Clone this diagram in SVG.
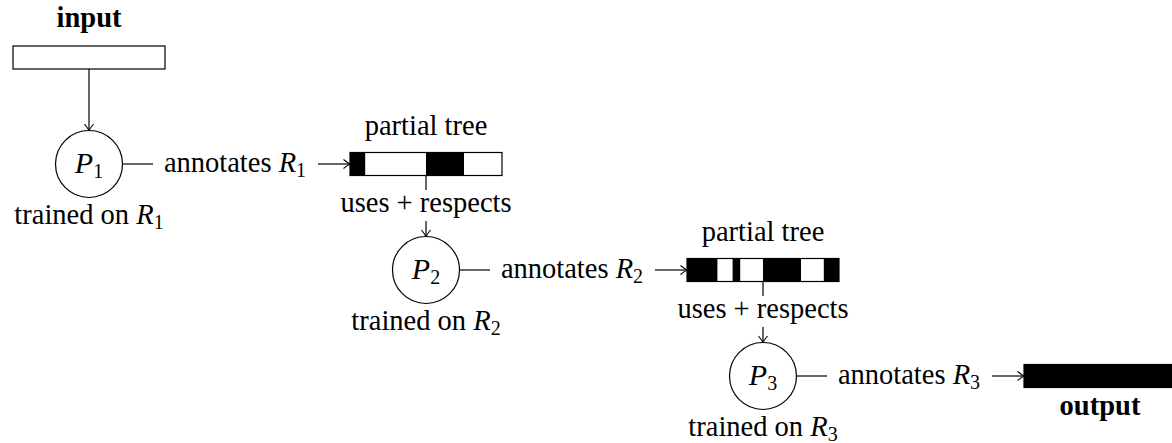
<svg xmlns="http://www.w3.org/2000/svg" width="1172" height="443" viewBox="0 0 1172 443">
<style>
text{font-family:"Liberation Serif","Times New Roman",serif;font-size:28.5px;fill:#000}
.b{font-weight:bold}
.m{font-style:italic}
.s{font-size:20px}
.pl{font-size:30px}
.ln{stroke:#000;stroke-width:1.2;fill:none}
.box{fill:#fff;stroke:#000;stroke-width:1.2}
.blk{fill:#000}
.c{fill:#fff;stroke:#000;stroke-width:1.2}
</style>
<defs>
<marker id="ah" markerUnits="userSpaceOnUse" markerWidth="12" markerHeight="12" viewBox="-8 -6 10 12" refX="0" refY="0" orient="auto">
<path d="M-6.5,-4.5 Q-2,-1 0,0 Q-2,1 -6.5,4.5" fill="none" stroke="#000" stroke-width="1.1"/>
</marker>
</defs>
<g id="connectors">
<line class="ln" x1="89" y1="69" x2="89" y2="130.5" marker-end="url(#ah)"/>
<line class="ln" x1="122.5" y1="164" x2="153" y2="164"/>
<line class="ln" x1="318" y1="164" x2="350" y2="164" marker-end="url(#ah)"/>
<line class="ln" x1="426" y1="175.5" x2="426" y2="190"/>
<line class="ln" x1="426" y1="221" x2="426" y2="236.5" marker-end="url(#ah)"/>
<line class="ln" x1="459.5" y1="270" x2="490" y2="270"/>
<line class="ln" x1="655" y1="270" x2="687" y2="270" marker-end="url(#ah)"/>
<line class="ln" x1="763" y1="281.5" x2="763" y2="296"/>
<line class="ln" x1="763" y1="327" x2="763" y2="342.5" marker-end="url(#ah)"/>
<line class="ln" x1="796.5" y1="376" x2="827" y2="376"/>
<line class="ln" x1="992" y1="376" x2="1024" y2="376" marker-end="url(#ah)"/>
<text x="235" y="172" text-anchor="middle" font-size="29">annotates <tspan class="m">R</tspan><tspan class="s" dy="5">1</tspan></text>
<text x="426" y="212" text-anchor="middle">uses + respects</text>
<text x="572" y="278" text-anchor="middle" font-size="29">annotates <tspan class="m">R</tspan><tspan class="s" dy="5">2</tspan></text>
<text x="763" y="318" text-anchor="middle">uses + respects</text>
<text x="909" y="384" text-anchor="middle" font-size="29">annotates <tspan class="m">R</tspan><tspan class="s" dy="5">3</tspan></text>
</g>
<g id="input">
<text class="b" x="89" y="27" text-anchor="middle">input</text>
<rect class="box" x="13" y="46" width="152" height="23"/>
</g>
<g id="P1">
<circle class="c" cx="89" cy="164" r="33.5"/>
<text class="pl" x="89" y="173" text-anchor="middle"><tspan class="m">P</tspan><tspan class="s" dy="5">1</tspan></text>
<text x="89" y="224" text-anchor="middle">trained on <tspan class="m">R</tspan><tspan class="s" dy="5">1</tspan></text>
</g>
<g id="tree1">
<text x="426" y="135" text-anchor="middle">partial tree</text>
<rect class="box" x="350" y="152.5" width="152" height="23"/>
<rect class="blk" x="350" y="152.5" width="15.2" height="23"/>
<rect class="blk" x="426" y="152.5" width="38" height="23"/>
</g>
<g id="P2">
<circle class="c" cx="426" cy="270" r="33.5"/>
<text class="pl" x="426" y="279" text-anchor="middle"><tspan class="m">P</tspan><tspan class="s" dy="5">2</tspan></text>
<text x="426" y="330" text-anchor="middle">trained on <tspan class="m">R</tspan><tspan class="s" dy="5">2</tspan></text>
</g>
<g id="tree2">
<text x="763" y="241" text-anchor="middle">partial tree</text>
<rect class="box" x="687" y="258.5" width="152" height="23"/>
<rect class="blk" x="687" y="258.5" width="30.4" height="23"/>
<rect class="blk" x="732.6" y="258.5" width="7.6" height="23"/>
<rect class="blk" x="763" y="258.5" width="38" height="23"/>
<rect class="blk" x="823.8" y="258.5" width="15.2" height="23"/>
</g>
<g id="P3">
<circle class="c" cx="763" cy="376" r="33.5"/>
<text class="pl" x="763" y="385" text-anchor="middle"><tspan class="m">P</tspan><tspan class="s" dy="5">3</tspan></text>
<text x="763" y="436" text-anchor="middle">trained on <tspan class="m">R</tspan><tspan class="s" dy="5">3</tspan></text>
</g>
<g id="output">
<rect x="1024" y="364.5" width="152" height="23" fill="#000" stroke="#000" stroke-width="1.2"/>
<text class="b" x="1100" y="415" text-anchor="middle">output</text>
</g>
</svg>
